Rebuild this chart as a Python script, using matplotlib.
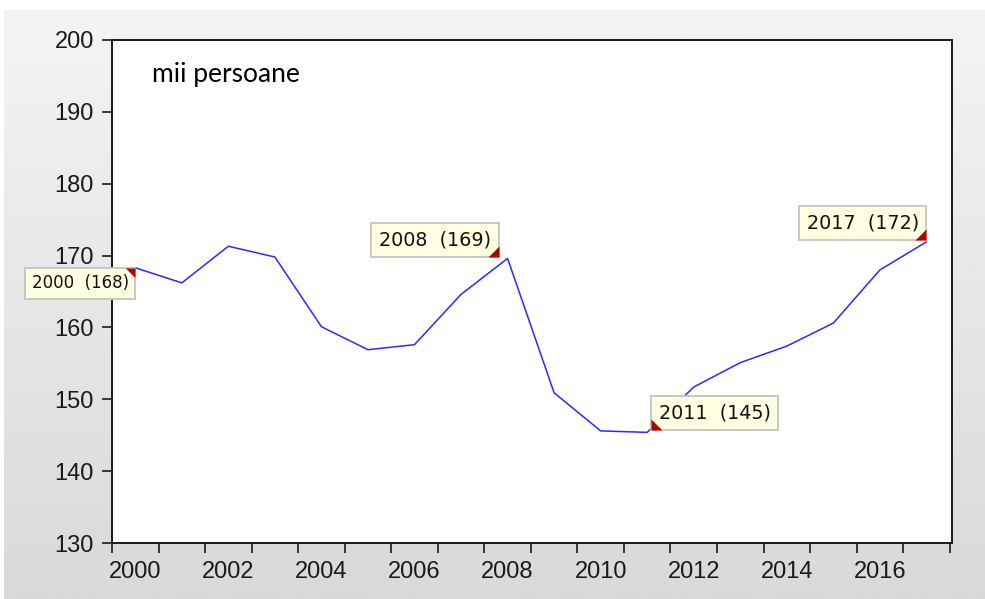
import numpy as np
import matplotlib
matplotlib.use('Agg')
import matplotlib.pyplot as plt
from matplotlib import transforms

# annual values (mii persoane)
years = [2000, 2001, 2002, 2003, 2004, 2005, 2006, 2007, 2008,
         2009, 2010, 2011, 2012, 2013, 2014, 2015, 2016, 2017]
values = [168.3, 166.2, 171.3, 169.8, 160.1, 156.9, 157.6, 164.6, 169.6,
          150.9, 145.6, 145.4, 151.7, 155.1, 157.4, 160.6, 168.0, 171.9]

y_ticks = [130, 140, 150, 160, 170, 180, 190, 200]
x_labels = [2000, 2002, 2004, 2006, 2008, 2010, 2012, 2014, 2016]

# labelled points
note_years = [2000, 2008, 2011, 2017]
note_texts = ['2000  (168)', '2008  (169)', '2011  (145)', '2017  (172)']
unit_text = 'mii persoane'

axis_font = ['Liberation Sans Narrow', 'Liberation Sans', 'DejaVu Sans']

W, H, DPI = 985, 599, 100
fig = plt.figure(figsize=(W / DPI, H / DPI), dpi=DPI, facecolor='white')

# grey gradient background (screenshot look)
bg = fig.add_axes([4 / W, 0, 1 - 4 / W, (H - 10) / H], zorder=-10)
grad = np.linspace(0.955, 0.85, 256).reshape(-1, 1)
bg.imshow(grad, aspect='auto', cmap='gray', vmin=0, vmax=1,
          extent=[0, 1, 0, 1], origin='upper')
bg.set_axis_off()

ax = fig.add_axes([112 / W, (H - 543) / H, 840 / W, 503 / H])
ax.set_facecolor('white')
ax.plot(years, values, color='#2a2aff', linewidth=1.1, zorder=3)

ax.set_xlim(1999.5, 2017.55)
ax.set_ylim(130, 200)

# y axis
ax.set_yticks(y_ticks)
ax.tick_params(axis='y', direction='out', length=7, width=1.2, pad=6,
               colors='#1a1a1a', labelcolor='#1a1a1a')
# x axis: marks on year boundaries, labels centred on the years
ax.set_xticks(x_labels)
ax.set_xticks(np.arange(1999.5, 2018, 1.0), minor=True)
ax.tick_params(axis='x', which='major', length=0, pad=13)
ax.tick_params(axis='x', which='minor', direction='out', length=7, width=1.2,
               colors='#1a1a1a')
for lab in ax.get_xticklabels() + ax.get_yticklabels():
    lab.set_family(axis_font)
    lab.set_fontsize(17)
    lab.set_color('#1a1a1a')

for sp in ax.spines.values():
    sp.set_linewidth(1.4)
    sp.set_color('#1a1a1a')

ax.text(0.048, 0.9165, unit_text, transform=ax.transAxes, family='Lato',
        fontsize=19, va='baseline', ha='left', color='black')

# annotation boxes: which corner touches the point, pixel offset, font size
corners = ['tr', 'br', 'bl', 'br']
offsets = [(0, 0), (-9, 1), (4, 2), (0, 2)]
sizes = [12, 13.8, 13.8, 13.8]
pad = 0.39

for yr, txt, corner, (dx, dy), fs in zip(note_years, note_texts, corners, offsets, sizes):
    val = values[years.index(yr)]
    ha = 'right' if corner[1] == 'r' else 'left'
    va = 'top' if corner[0] == 't' else 'bottom'
    sx = -1 if ha == 'right' else 1
    sy = -1 if va == 'top' else 1
    pad_px = pad * fs * DPI / 72
    ax.annotate(txt, xy=(yr, val), xytext=(dx + sx * pad_px, dy + sy * pad_px),
                textcoords='offset pixels', ha=ha, va=va, fontsize=fs,
                family='DejaVu Sans', color='#111111', annotation_clip=False,
                bbox=dict(boxstyle='square,pad=%s' % pad, fc='#ffffe1',
                          ec='#c4c4c4', lw=1.3), zorder=5)
    tr = transforms.offset_copy(ax.transData, fig=fig, x=dx, y=dy, units='dots')
    leg = 11 * fs / 13.8
    ax.plot([yr], [val], transform=tr, linestyle='none',
            marker=[(0, 0), (sx, 0), (0, sy), (0, 0)],
            markersize=2 * leg * 72 / DPI, color='#b30000',
            markeredgewidth=0, clip_on=False, zorder=6)

fig.savefig('out.png', dpi=DPI, facecolor=fig.get_facecolor())
